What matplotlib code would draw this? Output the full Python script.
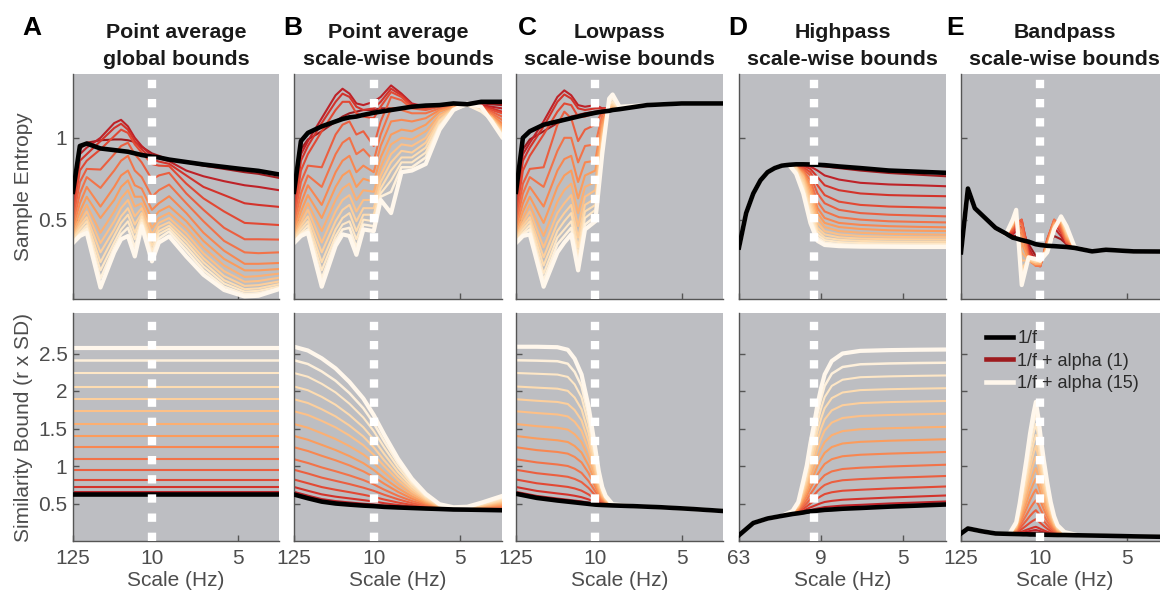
import matplotlib
matplotlib.use("Agg")
import matplotlib.pyplot as plt
from matplotlib.colors import LinearSegmentedColormap
from matplotlib.lines import Line2D

plt.rcParams['font.family'] = ['Liberation Sans', 'DejaVu Sans']

# ---------------- text ----------------
panel_letters = ['A', 'B', 'C', 'D', 'E']
panel_titles_line1 = ['Point average', 'Point average', 'Lowpass', 'Highpass', 'Bandpass']
panel_titles_line2 = ['global bounds', 'scale-wise bounds', 'scale-wise bounds',
                      'scale-wise bounds', 'scale-wise bounds']
xtick_labels_std = ['125', '10', '5']
xtick_labels_D = ['63', '9', '5']
legend_labels = ['1/f', '1/f + alpha (1)', '1/f + alpha (15)']

# ---------------- top row: sample entropy ----------------
scales_A_top = [1, 2, 3, 5, 7, 8, 9, 10, 11, 12.5, 13.5, 15, 17.5, 20, 23, 26, 28, 31]
sampen_A_black = [0.67, 0.95, 0.965, 0.935, 0.925, 0.92, 0.915, 0.905, 0.895, 0.885, 0.88, 0.867, 0.852, 0.837, 0.822, 0.807, 0.798, 0.776]
sampen_A_alpha = [
    [0.64, 0.93, 0.97, 0.985, 0.99, 0.99, 0.985, 0.975, 0.945, 0.905, 0.89, 0.865, 0.85, 0.83, 0.81, 0.79, 0.78, 0.755],
    [0.60, 0.90, 0.94, 1.0, 1.09, 1.11, 1.07, 1.0, 0.95, 0.89, 0.875, 0.857, 0.80, 0.765, 0.735, 0.71, 0.70, 0.68],
    [0.56, 0.86, 0.90, 0.98, 1.06, 1.086, 1.05, 0.98, 0.93, 0.87, 0.855, 0.841, 0.77, 0.70, 0.65, 0.60, 0.59, 0.578],
    [0.53, 0.80, 0.86, 0.93, 1.01, 1.05, 1.03, 0.96, 0.91, 0.84, 0.83, 0.827, 0.72, 0.63, 0.55, 0.48, 0.475, 0.467],
    [0.50, 0.73, 0.81, 0.806, 0.90, 0.95, 0.97, 0.90, 0.85, 0.745, 0.77, 0.786, 0.66, 0.56, 0.45, 0.38, 0.38, 0.378],
    [0.47, 0.66, 0.76, 0.694, 0.80, 0.86, 0.89, 0.80, 0.76, 0.64, 0.68, 0.714, 0.60, 0.49, 0.37, 0.30, 0.295, 0.30],
    [0.45, 0.60, 0.70, 0.58, 0.70, 0.77, 0.80, 0.71, 0.69, 0.56, 0.60, 0.643, 0.54, 0.42, 0.31, 0.23, 0.23, 0.235],
    [0.43, 0.55, 0.64, 0.51, 0.62, 0.70, 0.74, 0.64, 0.64, 0.50, 0.55, 0.582, 0.49, 0.37, 0.26, 0.19, 0.19, 0.198],
    [0.415, 0.51, 0.59, 0.42, 0.55, 0.63, 0.68, 0.58, 0.60, 0.45, 0.51, 0.541, 0.45, 0.33, 0.22, 0.15, 0.155, 0.17],
    [0.40, 0.48, 0.55, 0.357, 0.49, 0.57, 0.62, 0.52, 0.57, 0.41, 0.48, 0.51, 0.415, 0.295, 0.185, 0.12, 0.125, 0.145],
    [0.39, 0.46, 0.515, 0.30, 0.44, 0.52, 0.57, 0.47, 0.54, 0.37, 0.455, 0.484, 0.385, 0.265, 0.155, 0.095, 0.10, 0.122],
    [0.38, 0.44, 0.49, 0.24, 0.40, 0.48, 0.53, 0.42, 0.52, 0.34, 0.43, 0.463, 0.36, 0.24, 0.13, 0.075, 0.08, 0.106],
    [0.37, 0.42, 0.465, 0.19, 0.36, 0.44, 0.49, 0.38, 0.50, 0.31, 0.41, 0.445, 0.335, 0.215, 0.11, 0.06, 0.065, 0.092],
    [0.363, 0.41, 0.445, 0.14, 0.33, 0.41, 0.45, 0.33, 0.48, 0.28, 0.385, 0.427, 0.31, 0.19, 0.09, 0.045, 0.05, 0.08],
    [0.357, 0.40, 0.42, 0.085, 0.30, 0.38, 0.40, 0.275, 0.46, 0.245, 0.36, 0.398, 0.275, 0.163, 0.07, 0.03, 0.035, 0.075],
]

scales_B_top = [1, 2, 3, 5, 7, 8, 9, 10, 11, 12.5, 13.5, 15, 16.5, 18, 20, 22, 24, 26, 28, 29.5, 31]
sampen_B_black = [0.67, 0.98, 1.03, 1.07, 1.10, 1.115, 1.125, 1.13, 1.14, 1.153, 1.16, 1.17, 1.18, 1.19, 1.197, 1.20, 1.21, 1.205, 1.22, 1.22, 1.22]
sampen_B_alpha = [
    [0.64, 0.93, 0.99, 1.04, 1.10, 1.13, 1.15, 1.16, 1.17, 1.17, 1.18, 1.18, 1.18, 1.19, 1.195, 1.20, 1.205, 1.205, 1.21, 1.205, 1.20],
    [0.60, 0.90, 0.98, 1.12, 1.26, 1.30, 1.27, 1.21, 1.20, 1.22, 1.25, 1.32, 1.27, 1.21, 1.19, 1.20, 1.205, 1.205, 1.20, 1.19, 1.18],
    [0.56, 0.86, 0.95, 1.09, 1.22, 1.27, 1.25, 1.19, 1.17, 1.18, 1.22, 1.30, 1.26, 1.20, 1.185, 1.20, 1.20, 1.205, 1.195, 1.18, 1.16],
    [0.53, 0.80, 0.90, 1.04, 1.17, 1.22, 1.22, 1.15, 1.13, 1.12, 1.19, 1.28, 1.25, 1.19, 1.18, 1.195, 1.20, 1.20, 1.19, 1.17, 1.15],
    [0.50, 0.73, 0.83, 0.82, 1.02, 1.08, 1.10, 1.02, 1.04, 0.95, 1.10, 1.25, 1.23, 1.18, 1.17, 1.19, 1.20, 1.20, 1.185, 1.16, 1.13],
    [0.47, 0.66, 0.77, 0.70, 0.90, 0.97, 1.00, 0.90, 0.93, 0.86, 1.02, 1.18, 1.17, 1.15, 1.15, 1.18, 1.195, 1.20, 1.18, 1.15, 1.11],
    [0.45, 0.60, 0.71, 0.59, 0.79, 0.86, 0.89, 0.79, 0.83, 0.79, 0.95, 1.10, 1.11, 1.10, 1.12, 1.17, 1.19, 1.20, 1.18, 1.14, 1.09],
    [0.43, 0.55, 0.65, 0.51, 0.70, 0.77, 0.80, 0.70, 0.75, 0.73, 0.88, 1.02, 1.05, 1.04, 1.08, 1.16, 1.19, 1.20, 1.175, 1.13, 1.075],
    [0.415, 0.51, 0.60, 0.43, 0.62, 0.69, 0.72, 0.62, 0.68, 0.67, 0.82, 0.96, 1.00, 0.99, 1.04, 1.14, 1.185, 1.20, 1.17, 1.13, 1.06],
    [0.40, 0.48, 0.56, 0.36, 0.55, 0.62, 0.65, 0.55, 0.62, 0.62, 0.77, 0.90, 0.96, 0.95, 1.00, 1.13, 1.18, 1.20, 1.17, 1.12, 1.05],
    [0.39, 0.46, 0.52, 0.30, 0.49, 0.56, 0.59, 0.49, 0.57, 0.57, 0.73, 0.85, 0.92, 0.91, 0.97, 1.11, 1.18, 1.20, 1.17, 1.12, 1.04],
    [0.38, 0.44, 0.49, 0.24, 0.44, 0.51, 0.54, 0.43, 0.53, 0.53, 0.69, 0.80, 0.88, 0.88, 0.94, 1.10, 1.175, 1.20, 1.165, 1.115, 1.03],
    [0.37, 0.42, 0.465, 0.19, 0.40, 0.47, 0.49, 0.38, 0.50, 0.49, 0.66, 0.74, 0.85, 0.85, 0.91, 1.08, 1.175, 1.20, 1.165, 1.11, 1.025],
    [0.363, 0.41, 0.44, 0.14, 0.37, 0.44, 0.45, 0.33, 0.47, 0.46, 0.64, 0.67, 0.82, 0.82, 0.88, 1.07, 1.17, 1.20, 1.16, 1.11, 1.015],
    [0.357, 0.40, 0.42, 0.09, 0.34, 0.41, 0.40, 0.285, 0.44, 0.43, 0.62, 0.54, 0.79, 0.80, 0.84, 1.05, 1.17, 1.21, 1.19, 1.10, 1.005],
]

scales_C_top = [1, 2, 3, 5, 7, 8, 9, 10, 11, 12.5, 13.5, 14.5, 15, 16, 20, 25, 31]
sampen_C_black = [0.67, 1.0, 1.04, 1.08, 1.10, 1.11, 1.12, 1.13, 1.14, 1.153, 1.16, 1.165, 1.17, 1.175, 1.20, 1.21, 1.21]
sampen_C_alpha = [
    [0.64, 0.93, 0.99, 1.04, 1.09, 1.11, 1.13, 1.14, 1.15, 1.16, 1.165, 1.17, 1.17, 1.175, 1.20, 1.21, 1.21],
    [0.60, 0.90, 0.97, 1.10, 1.25, 1.29, 1.26, 1.20, 1.19, 1.20, 1.18, 1.18, 1.175, 1.18, 1.20, 1.21, 1.21],
    [0.56, 0.86, 0.94, 1.07, 1.22, 1.265, 1.24, 1.18, 1.17, 1.18, 1.18, 1.18, 1.175, 1.18, 1.20, 1.21, 1.21],
    [0.53, 0.80, 0.89, 1.02, 1.16, 1.21, 1.20, 1.13, 1.13, 1.15, 1.17, 1.18, 1.18, 1.18, 1.20, 1.21, 1.21],
    [0.50, 0.72, 0.81, 0.82, 1.08, 1.16, 1.12, 0.98, 1.05, 1.08, 1.16, 1.18, 1.18, 1.18, 1.20, 1.21, 1.21],
    [0.47, 0.66, 0.76, 0.70, 0.92, 1.00, 1.00, 0.85, 0.95, 0.96, 1.14, 1.18, 1.18, 1.18, 1.20, 1.21, 1.21],
    [0.45, 0.60, 0.70, 0.58, 0.80, 0.87, 0.89, 0.73, 0.85, 0.86, 1.11, 1.185, 1.18, 1.18, 1.20, 1.21, 1.21],
    [0.43, 0.55, 0.64, 0.48, 0.70, 0.77, 0.80, 0.63, 0.77, 0.80, 1.08, 1.19, 1.185, 1.18, 1.20, 1.21, 1.21],
    [0.415, 0.51, 0.59, 0.40, 0.61, 0.68, 0.72, 0.54, 0.70, 0.73, 1.05, 1.19, 1.19, 1.18, 1.20, 1.21, 1.21],
    [0.40, 0.48, 0.55, 0.33, 0.54, 0.60, 0.65, 0.46, 0.64, 0.68, 1.02, 1.20, 1.19, 1.18, 1.20, 1.21, 1.21],
    [0.39, 0.46, 0.515, 0.27, 0.48, 0.54, 0.59, 0.39, 0.59, 0.63, 0.99, 1.20, 1.20, 1.18, 1.20, 1.21, 1.21],
    [0.38, 0.44, 0.49, 0.22, 0.43, 0.49, 0.54, 0.33, 0.55, 0.59, 0.97, 1.21, 1.21, 1.18, 1.20, 1.21, 1.21],
    [0.37, 0.42, 0.465, 0.17, 0.39, 0.44, 0.49, 0.28, 0.51, 0.56, 0.95, 1.21, 1.22, 1.185, 1.20, 1.21, 1.21],
    [0.363, 0.41, 0.44, 0.13, 0.35, 0.40, 0.45, 0.23, 0.47, 0.52, 0.93, 1.22, 1.24, 1.19, 1.20, 1.21, 1.21],
    [0.357, 0.40, 0.41, 0.09, 0.30, 0.36, 0.41, 0.19, 0.44, 0.49, 0.90, 1.24, 1.265, 1.19, 1.20, 1.21, 1.21],
]

scales_D_top = [2, 3, 4, 5, 6, 7, 8, 9, 10, 11, 12, 13, 14, 16, 19, 23, 27, 31]
sampen_D_black = [0.33, 0.54, 0.66, 0.74, 0.79, 0.815, 0.83, 0.835, 0.838, 0.838, 0.837, 0.835, 0.833, 0.825, 0.815, 0.80, 0.793, 0.786]
# alpha curves follow the 1/f curve up to scale 9; values from scale 10 onward:
sampen_D_alpha_tail = [
    [0.838, 0.838, 0.835, 0.83, 0.825, 0.815, 0.80, 0.785, 0.775, 0.765],
    [0.836, 0.835, 0.825, 0.80, 0.77, 0.745, 0.725, 0.715, 0.71, 0.704],
    [0.834, 0.83, 0.81, 0.76, 0.71, 0.68, 0.66, 0.65, 0.646, 0.643],
    [0.832, 0.82, 0.79, 0.71, 0.65, 0.61, 0.59, 0.58, 0.576, 0.572],
    [0.83, 0.81, 0.77, 0.66, 0.60, 0.56, 0.54, 0.53, 0.525, 0.52],
    [0.828, 0.80, 0.74, 0.61, 0.55, 0.515, 0.50, 0.49, 0.486, 0.483],
    [0.826, 0.79, 0.71, 0.57, 0.51, 0.48, 0.468, 0.46, 0.456, 0.453],
    [0.824, 0.78, 0.69, 0.54, 0.48, 0.455, 0.443, 0.435, 0.432, 0.43],
    [0.822, 0.77, 0.66, 0.51, 0.455, 0.43, 0.42, 0.413, 0.41, 0.408],
    [0.82, 0.76, 0.63, 0.48, 0.43, 0.41, 0.40, 0.395, 0.393, 0.392],
    [0.815, 0.74, 0.60, 0.45, 0.41, 0.392, 0.384, 0.38, 0.379, 0.378],
    [0.81, 0.72, 0.57, 0.43, 0.39, 0.377, 0.37, 0.366, 0.365, 0.364],
    [0.80, 0.70, 0.54, 0.41, 0.375, 0.363, 0.357, 0.354, 0.352, 0.351],
    [0.79, 0.68, 0.51, 0.39, 0.36, 0.35, 0.345, 0.343, 0.342, 0.341],
    [0.78, 0.66, 0.48, 0.37, 0.345, 0.338, 0.335, 0.334, 0.333, 0.333],
]

scales_E_top = [1, 2, 3, 4, 6, 7.5, 8.5, 9, 9.8, 10.8, 11.8, 12.5, 13.5, 14.5, 15.5, 16.3, 17.5, 20, 22, 26, 31]
sampen_E_black = [0.30, 0.69, 0.57, 0.53, 0.45, 0.415, 0.39, 0.385, 0.375, 0.365, 0.35, 0.345, 0.34, 0.338, 0.335, 0.333, 0.327, 0.306, 0.316, 0.306, 0.305]
# alpha curves differ from 1/f between scales 7.5 and 17.5:
sampen_E_alpha_mid = [
    [0.41, 0.40, 0.40, 0.42, 0.35, 0.28, 0.25, 0.33, 0.40, 0.38, 0.35, 0.327],
    [0.41, 0.41, 0.43, 0.46, 0.33, 0.25, 0.23, 0.35, 0.45, 0.40, 0.35, 0.327],
    [0.41, 0.42, 0.45, 0.49, 0.31, 0.23, 0.22, 0.37, 0.48, 0.42, 0.36, 0.327],
    [0.41, 0.43, 0.47, 0.50, 0.29, 0.22, 0.215, 0.38, 0.49, 0.43, 0.36, 0.327],
    [0.41, 0.44, 0.48, 0.50, 0.27, 0.22, 0.215, 0.38, 0.50, 0.44, 0.36, 0.33],
    [0.41, 0.45, 0.50, 0.47, 0.26, 0.22, 0.22, 0.37, 0.50, 0.46, 0.37, 0.33],
    [0.41, 0.46, 0.51, 0.42, 0.25, 0.22, 0.22, 0.36, 0.49, 0.47, 0.38, 0.33],
    [0.41, 0.46, 0.52, 0.36, 0.25, 0.23, 0.23, 0.35, 0.48, 0.48, 0.39, 0.33],
    [0.41, 0.47, 0.53, 0.30, 0.25, 0.23, 0.23, 0.34, 0.47, 0.49, 0.40, 0.33],
    [0.41, 0.47, 0.535, 0.25, 0.25, 0.24, 0.24, 0.33, 0.46, 0.50, 0.41, 0.33],
    [0.41, 0.48, 0.54, 0.20, 0.26, 0.24, 0.24, 0.32, 0.46, 0.50, 0.42, 0.33],
    [0.41, 0.48, 0.545, 0.17, 0.26, 0.25, 0.245, 0.32, 0.45, 0.51, 0.43, 0.33],
    [0.41, 0.49, 0.55, 0.14, 0.265, 0.25, 0.245, 0.31, 0.45, 0.51, 0.44, 0.33],
    [0.41, 0.49, 0.555, 0.12, 0.27, 0.255, 0.25, 0.30, 0.44, 0.515, 0.45, 0.33],
    [0.41, 0.50, 0.56, 0.10, 0.27, 0.26, 0.25, 0.30, 0.44, 0.52, 0.46, 0.33],
]

# ---------------- bottom row: similarity bound ----------------
scales_A_bot = [1, 31]
bound_A_black_level = 0.63
bound_A_alpha_levels = [0.64, 0.66, 0.72, 0.82, 0.95, 1.09, 1.25, 1.40, 1.56, 1.73, 1.89, 2.06, 2.24, 2.41, 2.58]

scales_B_bot = [1, 3, 5, 7, 9, 11, 12.5, 14, 16, 18, 20, 22, 24, 26, 28, 31]
bound_B_black = [0.62, 0.57, 0.525, 0.50, 0.485, 0.472, 0.465, 0.455, 0.447, 0.44, 0.433, 0.427, 0.42, 0.418, 0.415, 0.41]
bound_B_alpha = [
    [0.63, 0.58, 0.535, 0.51, 0.494, 0.48, 0.472, 0.461, 0.451, 0.442, 0.434, 0.427, 0.42, 0.418, 0.415, 0.41],
    [0.655, 0.605, 0.559, 0.532, 0.514, 0.497, 0.486, 0.471, 0.458, 0.447, 0.436, 0.428, 0.42, 0.418, 0.416, 0.412],
    [0.72, 0.67, 0.622, 0.591, 0.568, 0.545, 0.527, 0.504, 0.48, 0.46, 0.443, 0.43, 0.422, 0.42, 0.42, 0.42],
    [0.82, 0.77, 0.719, 0.683, 0.651, 0.617, 0.588, 0.553, 0.513, 0.48, 0.453, 0.433, 0.423, 0.422, 0.425, 0.429],
    [0.95, 0.90, 0.845, 0.802, 0.759, 0.711, 0.669, 0.617, 0.556, 0.505, 0.466, 0.438, 0.425, 0.425, 0.431, 0.442],
    [1.09, 1.04, 0.981, 0.93, 0.875, 0.813, 0.755, 0.685, 0.602, 0.533, 0.48, 0.442, 0.427, 0.427, 0.438, 0.455],
    [1.25, 1.20, 1.136, 1.076, 1.008, 0.929, 0.854, 0.764, 0.655, 0.565, 0.496, 0.447, 0.429, 0.431, 0.445, 0.47],
    [1.40, 1.35, 1.282, 1.213, 1.132, 1.038, 0.946, 0.837, 0.704, 0.594, 0.511, 0.452, 0.432, 0.434, 0.452, 0.485],
    [1.56, 1.51, 1.437, 1.359, 1.265, 1.154, 1.045, 0.916, 0.757, 0.626, 0.527, 0.457, 0.434, 0.437, 0.46, 0.50],
    [1.73, 1.68, 1.602, 1.515, 1.406, 1.277, 1.15, 0.999, 0.813, 0.66, 0.544, 0.463, 0.437, 0.44, 0.468, 0.517],
    [1.89, 1.84, 1.757, 1.661, 1.539, 1.393, 1.249, 1.077, 0.866, 0.691, 0.56, 0.468, 0.439, 0.443, 0.476, 0.532],
    [2.06, 2.01, 1.922, 1.816, 1.68, 1.516, 1.353, 1.161, 0.922, 0.725, 0.577, 0.473, 0.442, 0.447, 0.484, 0.548],
    [2.24, 2.19, 2.096, 1.981, 1.83, 1.646, 1.465, 1.249, 0.982, 0.761, 0.595, 0.479, 0.444, 0.45, 0.493, 0.566],
    [2.41, 2.36, 2.261, 2.136, 1.971, 1.77, 1.57, 1.332, 1.038, 0.794, 0.612, 0.484, 0.447, 0.454, 0.501, 0.582],
    [2.59, 2.54, 2.436, 2.301, 2.12, 1.90, 1.68, 1.42, 1.097, 0.83, 0.63, 0.49, 0.45, 0.457, 0.51, 0.60],
]

scales_C_bot = [1, 4, 7, 8.5, 9.5, 10.5, 11.5, 12, 12.5, 13, 13.5, 14, 15, 18, 22, 26, 31]
bound_C_black = [0.63, 0.575, 0.54, 0.525, 0.515, 0.505, 0.495, 0.49, 0.485, 0.482, 0.48, 0.478, 0.474, 0.465, 0.45, 0.43, 0.40]
# alpha curves up to scale 15; beyond that they lie on the 1/f curve
bound_C_alpha_head = [
    [0.64, 0.584, 0.549, 0.533, 0.523, 0.512, 0.501, 0.495, 0.489, 0.484, 0.481, 0.479, 0.474],
    [0.655, 0.601, 0.566, 0.55, 0.539, 0.527, 0.512, 0.503, 0.494, 0.488, 0.483, 0.48, 0.474],
    [0.72, 0.668, 0.634, 0.618, 0.603, 0.584, 0.555, 0.537, 0.519, 0.503, 0.491, 0.484, 0.475],
    [0.82, 0.77, 0.738, 0.721, 0.701, 0.671, 0.622, 0.59, 0.557, 0.525, 0.503, 0.49, 0.476],
    [0.95, 0.904, 0.874, 0.856, 0.828, 0.785, 0.708, 0.658, 0.607, 0.555, 0.519, 0.498, 0.477],
    [1.09, 1.048, 1.02, 1.0, 0.964, 0.908, 0.801, 0.732, 0.66, 0.587, 0.536, 0.507, 0.478],
    [1.25, 1.212, 1.187, 1.165, 1.121, 1.048, 0.908, 0.816, 0.721, 0.624, 0.556, 0.516, 0.479],
    [1.40, 1.367, 1.343, 1.32, 1.267, 1.179, 1.008, 0.895, 0.778, 0.658, 0.574, 0.526, 0.48],
    [1.56, 1.531, 1.51, 1.486, 1.424, 1.319, 1.114, 0.979, 0.838, 0.695, 0.593, 0.536, 0.481],
    [1.73, 1.706, 1.687, 1.661, 1.59, 1.468, 1.228, 1.069, 0.903, 0.734, 0.614, 0.546, 0.483],
    [1.89, 1.87, 1.854, 1.827, 1.746, 1.608, 1.334, 1.153, 0.964, 0.771, 0.634, 0.556, 0.484],
    [2.06, 2.045, 2.031, 2.002, 1.912, 1.756, 1.447, 1.242, 1.028, 0.81, 0.654, 0.567, 0.485],
    [2.24, 2.23, 2.219, 2.188, 2.088, 1.914, 1.567, 1.337, 1.097, 0.851, 0.676, 0.578, 0.487],
    [2.41, 2.405, 2.397, 2.364, 2.254, 2.063, 1.68, 1.426, 1.161, 0.89, 0.697, 0.588, 0.488],
    [2.59, 2.59, 2.584, 2.55, 2.43, 2.22, 1.80, 1.52, 1.23, 0.93, 0.72, 0.60, 0.49],
]

scales_D_bot = [2, 4, 6, 8, 9.5, 10.3, 11, 11.5, 12, 12.5, 13, 13.5, 14, 15, 16.5, 19, 23, 27, 31]
bound_D_black = [0.077, 0.24, 0.30, 0.335, 0.36, 0.37, 0.38, 0.39, 0.395, 0.40, 0.405, 0.41, 0.415, 0.42, 0.43, 0.44, 0.458, 0.472, 0.487]
# alpha curves lie on the 1/f curve up to scale 8; values from scale 9.5 onward:
bound_D_alpha_tail = [
    [0.36, 0.37, 0.382, 0.393, 0.399, 0.406, 0.413, 0.419, 0.425, 0.431, 0.441, 0.451, 0.469, 0.483, 0.497],
    [0.36, 0.372, 0.388, 0.402, 0.412, 0.423, 0.434, 0.443, 0.452, 0.46, 0.472, 0.482, 0.5, 0.513, 0.527],
    [0.362, 0.379, 0.404, 0.426, 0.448, 0.467, 0.487, 0.505, 0.52, 0.535, 0.55, 0.562, 0.579, 0.593, 0.607],
    [0.365, 0.388, 0.429, 0.462, 0.50, 0.534, 0.569, 0.599, 0.625, 0.65, 0.67, 0.683, 0.70, 0.713, 0.727],
    [0.367, 0.398, 0.457, 0.504, 0.561, 0.612, 0.665, 0.71, 0.747, 0.784, 0.81, 0.825, 0.842, 0.854, 0.867],
    [0.37, 0.409, 0.488, 0.549, 0.627, 0.695, 0.768, 0.828, 0.878, 0.928, 0.96, 0.977, 0.993, 1.005, 1.017],
    [0.373, 0.421, 0.522, 0.60, 0.702, 0.79, 0.885, 0.962, 1.027, 1.091, 1.13, 1.15, 1.165, 1.176, 1.187],
    [0.377, 0.434, 0.557, 0.651, 0.776, 0.885, 1.001, 1.096, 1.175, 1.253, 1.30, 1.322, 1.337, 1.347, 1.357],
    [0.38, 0.446, 0.59, 0.70, 0.848, 0.976, 1.114, 1.227, 1.32, 1.411, 1.465, 1.49, 1.503, 1.513, 1.522],
    [0.383, 0.458, 0.626, 0.753, 0.925, 1.074, 1.234, 1.365, 1.473, 1.579, 1.64, 1.667, 1.68, 1.689, 1.697],
    [0.386, 0.471, 0.66, 0.804, 0.999, 1.169, 1.35, 1.499, 1.621, 1.742, 1.81, 1.839, 1.852, 1.86, 1.867],
    [0.389, 0.483, 0.695, 0.855, 1.074, 1.263, 1.467, 1.633, 1.77, 1.905, 1.98, 2.012, 2.024, 2.031, 2.037],
    [0.393, 0.496, 0.729, 0.906, 1.148, 1.358, 1.583, 1.767, 1.918, 2.068, 2.15, 2.184, 2.195, 2.202, 2.207],
    [0.396, 0.508, 0.764, 0.957, 1.223, 1.453, 1.70, 1.901, 2.067, 2.231, 2.32, 2.356, 2.367, 2.373, 2.377],
    [0.40, 0.52, 0.80, 1.01, 1.30, 1.55, 1.82, 2.04, 2.22, 2.40, 2.50, 2.535, 2.545, 2.55, 2.553],
]

scales_E_bot = [1, 2, 4, 6, 8, 9, 9.5, 10, 10.5, 11, 11.5, 11.85, 12.2, 12.6, 13, 13.5, 14, 14.5, 15, 16, 18, 22, 26, 31]
bound_E_black = [0.10, 0.167, 0.13, 0.10, 0.095, 0.093, 0.092, 0.09, 0.09, 0.087, 0.087, 0.086, 0.085, 0.085, 0.084, 0.083, 0.082, 0.081, 0.08, 0.08, 0.076, 0.07, 0.062, 0.055]
# alpha curves differ from 1/f between scales 9 and 16:
bound_E_alpha_mid = [
    [0.095, 0.098, 0.101, 0.105, 0.107, 0.111, 0.113, 0.108, 0.104, 0.099, 0.093, 0.089, 0.085, 0.082, 0.081],
    [0.098, 0.106, 0.114, 0.124, 0.133, 0.142, 0.146, 0.138, 0.128, 0.118, 0.107, 0.097, 0.089, 0.084, 0.081],
    [0.102, 0.116, 0.131, 0.149, 0.165, 0.181, 0.189, 0.176, 0.158, 0.142, 0.123, 0.107, 0.095, 0.088, 0.082],
    [0.111, 0.139, 0.172, 0.207, 0.243, 0.274, 0.291, 0.267, 0.232, 0.20, 0.164, 0.133, 0.11, 0.095, 0.085],
    [0.122, 0.167, 0.221, 0.276, 0.334, 0.384, 0.411, 0.373, 0.318, 0.267, 0.211, 0.163, 0.127, 0.104, 0.087],
    [0.133, 0.197, 0.272, 0.35, 0.432, 0.502, 0.541, 0.487, 0.41, 0.34, 0.262, 0.195, 0.145, 0.113, 0.09],
    [0.146, 0.231, 0.331, 0.433, 0.544, 0.635, 0.687, 0.617, 0.515, 0.423, 0.32, 0.231, 0.166, 0.124, 0.094],
    [0.159, 0.263, 0.388, 0.514, 0.651, 0.764, 0.829, 0.742, 0.616, 0.502, 0.376, 0.266, 0.186, 0.135, 0.097],
    [0.172, 0.296, 0.445, 0.595, 0.759, 0.894, 0.971, 0.868, 0.718, 0.582, 0.432, 0.301, 0.206, 0.145, 0.10],
    [0.185, 0.331, 0.506, 0.682, 0.874, 1.032, 1.123, 1.002, 0.826, 0.668, 0.491, 0.339, 0.227, 0.156, 0.103],
    [0.198, 0.365, 0.564, 0.765, 0.984, 1.164, 1.268, 1.13, 0.93, 0.749, 0.549, 0.375, 0.247, 0.167, 0.107],
    [0.211, 0.398, 0.623, 0.848, 1.094, 1.297, 1.413, 1.259, 1.034, 0.831, 0.606, 0.411, 0.268, 0.178, 0.11],
    [0.224, 0.432, 0.681, 0.931, 1.206, 1.431, 1.56, 1.389, 1.139, 0.914, 0.664, 0.447, 0.288, 0.188, 0.113],
    [0.237, 0.465, 0.74, 1.014, 1.316, 1.563, 1.705, 1.517, 1.242, 0.995, 0.721, 0.483, 0.309, 0.199, 0.117],
    [0.25, 0.50, 0.80, 1.10, 1.43, 1.70, 1.855, 1.65, 1.35, 1.08, 0.78, 0.52, 0.33, 0.21, 0.12],
]

# ---------------- assemble full rows ----------------
sampen_D_alpha = [sampen_D_black[:8] + row for row in sampen_D_alpha_tail]
sampen_E_alpha = [sampen_E_black[:5] + row + sampen_E_black[17:] for row in sampen_E_alpha_mid]
bound_A_black = [bound_A_black_level, bound_A_black_level]
bound_A_alpha = [[v, v] for v in bound_A_alpha_levels]
bound_C_alpha = [row + bound_C_black[13:] for row in bound_C_alpha_head]
bound_D_alpha = [bound_D_black[:4] + row for row in bound_D_alpha_tail]
bound_E_alpha = [bound_E_black[:5] + row + bound_E_black[20:] for row in bound_E_alpha_mid]

top_data = [(scales_A_top, sampen_A_black, sampen_A_alpha),
            (scales_B_top, sampen_B_black, sampen_B_alpha),
            (scales_C_top, sampen_C_black, sampen_C_alpha),
            (scales_D_top, sampen_D_black, sampen_D_alpha),
            (scales_E_top, sampen_E_black, sampen_E_alpha)]
bot_data = [(scales_A_bot, bound_A_black, bound_A_alpha),
            (scales_B_bot, bound_B_black, bound_B_alpha),
            (scales_C_bot, bound_C_black, bound_C_alpha),
            (scales_D_bot, bound_D_black, bound_D_alpha),
            (scales_E_bot, bound_E_black, bound_E_alpha)]

# ---------------- styling ----------------
W, H = 1160, 601
fig = plt.figure(figsize=(W / 100, H / 100), dpi=100)

anchors = ['#9E1B1E', '#C4232A', '#DA3A2C', '#E8553A', '#F06D47', '#F7844F', '#FB9B5C',
           '#FCB275', '#FDC68E', '#FDD6A6', '#FEE3BE', '#FEEFD8', '#FFF7EC']
cmap = LinearSegmentedColormap.from_list('alphas', anchors)
colors = [cmap(i / 14) for i in range(15)]
lws = [1.5] * 13 + [1.8, 3.0]

BG = '#BDBEC2'
SPINE = '#555555'
TXT = '#4D4D4D'

lefts = [73, 294, 516, 739, 961]
widths = [206, 208, 207, 207, 207]
row_tops = [74, 313]
row_heights = [225, 228]


def rect(l, t, w, h):
    return [l / W, 1 - (t + h) / H, w / W, h / H]


def style(ax):
    ax.set_facecolor(BG)
    for sp in ['top', 'right']:
        ax.spines[sp].set_visible(False)
    for sp in ['left', 'bottom']:
        ax.spines[sp].set_color(SPINE)
        ax.spines[sp].set_linewidth(1.0)
    ax.tick_params(direction='in', length=4, width=1, color=SPINE,
                   labelsize=15, labelcolor=TXT)
    ax.tick_params(axis='x', pad=6)
    ax.tick_params(axis='y', pad=4)


def draw(ax, x, black, rows):
    for k, row in enumerate(rows):
        ax.plot(x, row, color=colors[k], lw=lws[k], solid_joinstyle='round', zorder=2)
    ax.plot(x, black, color='black', lw=3.3, solid_joinstyle='round', zorder=3)
    ax.axvline(12.5, color='white', lw=6.0, ls=(0, (1.0, 1.3)), zorder=4)


for i in range(5):
    for r in range(2):
        ax = fig.add_axes(rect(lefts[i], row_tops[r], widths[i], row_heights[r]))
        style(ax)
        x, black, rows = (top_data if r == 0 else bot_data)[i]
        draw(ax, x, black, rows)
        if i == 3:
            ax.set_xlim(2, 31)
            ax.set_xticks([2, 13.5, 25])
            ax.set_xticklabels(xtick_labels_D)
        else:
            ax.set_xlim(1, 31)
            ax.set_xticks([1, 12.5, 25])
            ax.set_xticklabels(xtick_labels_std)
        if r == 0:
            ax.set_ylim(0.015, 1.39)
            ax.set_yticks([0.5, 1])
            ax.set_yticklabels(['0.5', '1'])
            ax.tick_params(labelbottom=False)
        else:
            ax.set_ylim(0, 3.04)
            ax.set_yticks([0.5, 1, 1.5, 2, 2.5])
            ax.set_yticklabels(['0.5', '1', '1.5', '2', '2.5'])
            ax.set_xlabel('Scale (Hz)', fontsize=15, color=TXT, labelpad=2)
        if i != 0:
            ax.tick_params(labelleft=False)
        else:
            ax.set_ylabel('Sample Entropy' if r == 0 else 'Similarity Bound (r x SD)',
                          fontsize=15, color=TXT)
            ax.yaxis.set_label_coords(-0.195, 0.5)
        if i == 4 and r == 1:
            handles = [Line2D([], [], color='black', lw=3.3),
                       Line2D([], [], color=colors[0], lw=3.3),
                       Line2D([], [], color=colors[14], lw=3.3)]
            leg = ax.legend(handles, legend_labels, loc='upper left',
                            bbox_to_anchor=(0.12, 0.925), frameon=False, fontsize=13,
                            handlelength=1.5, handletextpad=0.25, labelspacing=0.3,
                            borderpad=0, borderaxespad=0)
            for t in leg.get_texts():
                t.set_color('#2b2b2b')

    cx = lefts[i] + widths[i] / 2
    fig.text(cx / W, 1 - 38 / H, panel_titles_line1[i], ha='center', va='baseline',
             fontsize=15.4, fontweight='bold', color='#1a1a1a')
    fig.text(cx / W, 1 - 65 / H, panel_titles_line2[i], ha='center', va='baseline',
             fontsize=15.4, fontweight='bold', color='#1a1a1a')

letter_x = [32, 292.5, 527, 737.5, 955]
for i in range(5):
    fig.text(letter_x[i] / W, 1 - 35 / H, panel_letters[i], ha='center', va='baseline',
             fontsize=19, fontweight='bold', color='black')

fig.savefig('out.png', dpi=100)
